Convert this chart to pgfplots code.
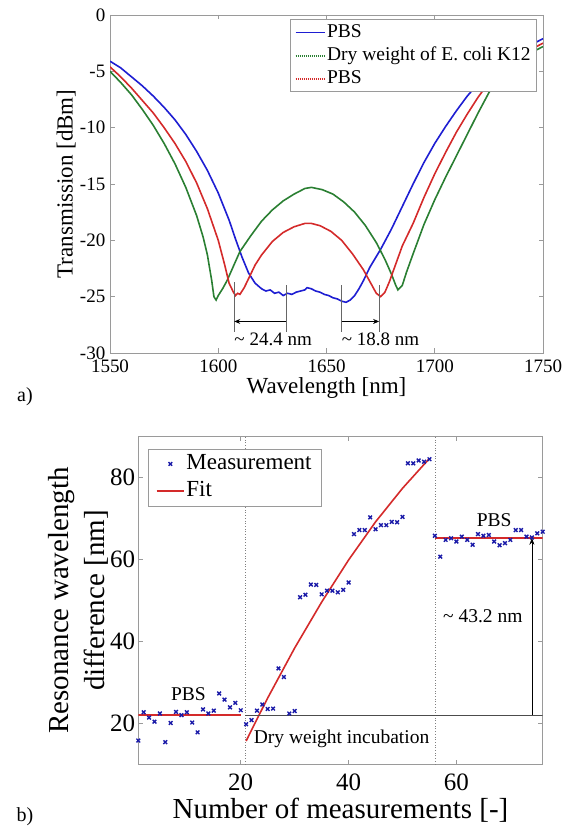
\documentclass[border=0pt]{standalone}
\usepackage{fontspec}
\setmainfont{Liberation Serif}
\usepackage{pgfplots}
\pgfplotsset{compat=1.18}
\usetikzlibrary{arrows.meta}
\definecolor{axgray}{HTML}{9A9A9A}
\definecolor{cBlue}{HTML}{1E1ED2}
\definecolor{cGreen}{HTML}{2A7F32}
\definecolor{cRed}{HTML}{D42A2A}
\definecolor{cMark}{HTML}{1A1AA8}
\pgfplotsset{
  matlab/.style={
    scale only axis, anchor=south west,
    axis line style={draw=axgray,line width=0.8pt},
    tick style={draw=axgray,line width=0.6pt},
    major tick length=4.5pt,
    tick align=inside,
    /pgf/number format/assume math mode=true,
    /pgf/number format/1000 sep={},
    tick label style={inner sep=0pt,text=black},
    legend cell align=left,
    legend image code/.code={\draw[mark repeat=2,mark phase=2,##1] plot coordinates {(0pt,0pt) (14.5pt,0pt) (29pt,0pt)};},
  }
}

\begin{document}
\begin{tikzpicture}
\path[use as bounding box] (0pt,0pt) rectangle (571pt,827pt);

% ---- panel a ----
\begin{axis}[matlab,
  at={(110pt,474pt)}, width=433pt, height=338pt,
  xmin=1550, xmax=1750, ymin=-30, ymax=0,
  xtick={1550,1600,1650,1700,1750},
  ytick={-30,-25,-20,-15,-10,-5,0},
  yticklabels={-30,-25,-20,-15,-10,-5,0},
  tick label style={font=\fontsize{19}{22}\selectfont},
  xticklabel shift=7pt, yticklabel shift=4.5pt,
  xlabel={Wavelength [nm]}, ylabel={Transmission [dBm]},
  label style={font=\fontsize{23}{26}\selectfont},
  xlabel style={at={(axis description cs:0.5,-0.1036)},anchor=center},
  ylabel style={at={(axis description cs:-0.101,0.5)},anchor=center},
  legend style={at={(axis description cs:0.985,0.987)},anchor=north east,
    draw=axgray,line width=0.6pt,fill=white,inner xsep=4pt,inner ysep=2pt,
    font=\fontsize{19.5}{22}\selectfont,row sep=1pt,
    nodes={inner sep=1.5pt,text height=14pt,text depth=5pt}},
]
\addplot[cBlue,line width=1.6pt] coordinates {
(1550,-4.1) (1555,-4.7) (1560,-5.5) (1565,-6.3) (1570,-7.2) (1575,-8.2) (1580,-9.3)
(1585,-10.6) (1590,-12.1) (1595,-13.8) (1600,-15.8) (1605,-18.2) (1608,-19.9) (1611,-21.5)
(1614,-22.9) (1617,-23.8) (1620,-24.3) (1622,-24.5) (1624,-24.4) (1626,-24.7) (1628,-24.6)
(1630,-24.9) (1632,-24.7) (1634,-24.8) (1636,-24.6) (1638,-24.5) (1640,-24.4) (1641,-24.2)
(1643,-24.3) (1645,-24.5) (1647,-24.6) (1649,-24.8) (1651,-24.9) (1653,-25.1) (1655,-25.2)
(1657,-25.4) (1659,-25.5) (1661,-25.3) (1663,-24.9) (1665,-24.3) (1667,-23.6) (1670,-22.4)
(1675,-20.8) (1680,-19.0) (1685,-17.0) (1690,-15.0) (1695,-13.1) (1700,-11.4) (1705,-9.9)
(1710,-8.5) (1715,-7.2) (1720,-6.1) (1725,-5.2) (1730,-4.4) (1740,-3.1) (1750,-2.1)};
\addlegendentry{PBS}
\addplot[cGreen,line width=1.6pt,legend image post style={cGreen,line width=1.8pt,dash pattern=on 1.2pt off 0.8pt}] coordinates {
(1550,-5.0) (1555,-6.0) (1560,-7.1) (1565,-8.4) (1570,-9.8) (1575,-11.4) (1580,-13.2)
(1585,-15.3) (1590,-17.8) (1593,-19.7) (1595,-21.3) (1597,-23.6) (1598,-25.0) (1599,-25.3)
(1600,-24.9) (1602,-24.3) (1604,-23.6) (1607,-22.3) (1610,-21.0) (1615,-19.6) (1620,-18.3)
(1625,-17.3) (1630,-16.5) (1635,-15.9) (1640,-15.4) (1643,-15.3) (1648,-15.5) (1653,-15.9)
(1658,-16.6) (1663,-17.5) (1668,-18.7) (1673,-20.2) (1677,-21.7) (1680,-23.0) (1682,-24.0)
(1683,-24.4) (1685,-24.0) (1687,-22.8) (1690,-21.2) (1695,-18.6) (1700,-16.4) (1705,-14.4)
(1710,-12.5) (1715,-10.6) (1720,-8.7) (1725,-6.9) (1730,-5.4) (1740,-3.8) (1750,-2.8)};
\addlegendentry{Dry weight of E. coli K12}
\addplot[cRed,line width=1.6pt,legend image post style={cRed,line width=1.8pt,dash pattern=on 1.2pt off 0.8pt}] coordinates {
(1550,-4.6) (1555,-5.5) (1560,-6.5) (1565,-7.6) (1570,-8.7) (1575,-10.0) (1580,-11.4)
(1585,-13.0) (1590,-14.9) (1595,-17.2) (1600,-20.0) (1603,-22.2) (1605,-23.8) (1607,-24.6)
(1608,-24.9) (1609,-24.7) (1610,-24.8) (1612,-24.2) (1614,-23.4) (1617,-22.2) (1620,-21.3)
(1625,-20.1) (1630,-19.3) (1635,-18.8) (1640,-18.5) (1643,-18.5) (1647,-18.7) (1652,-19.2)
(1657,-20.0) (1662,-21.2) (1667,-22.6) (1671,-24.0) (1673,-24.7) (1675,-25.0) (1677,-24.6)
(1679,-23.7) (1682,-22.1) (1685,-20.5) (1690,-18.5) (1695,-16.2) (1700,-14.1) (1705,-12.2)
(1710,-10.4) (1715,-8.8) (1720,-7.3) (1725,-6.0) (1730,-5.0) (1740,-3.5) (1750,-2.5)};
\addlegendentry{PBS}
% shift annotations
\draw[gray!80!black,line width=0.6pt] (axis cs:1607.4,-23.7) -- (axis cs:1607.4,-28.1);
\draw[gray!80!black,line width=0.6pt] (axis cs:1631.3,-24.0) -- (axis cs:1631.3,-28.1);
\draw[gray!80!black,line width=0.6pt] (axis cs:1657,-24.0) -- (axis cs:1657,-28.1);
\draw[gray!80!black,line width=0.6pt] (axis cs:1674.3,-24.0) -- (axis cs:1674.3,-28.1);
\draw[black,line width=0.7pt,-{Stealth[length=6pt,width=5pt]}] (axis cs:1631.3,-27.2) -- (axis cs:1607.4,-27.2);
\draw[black,line width=0.7pt,-{Stealth[length=6pt,width=5pt]}] (axis cs:1657,-27.2) -- (axis cs:1674.3,-27.2);
\node[anchor=west,inner sep=0pt,font=\fontsize{19}{22}\selectfont] at (axis cs:1607.4,-28.75) {\textasciitilde{} 24.4 nm};
\node[anchor=west,inner sep=0pt,font=\fontsize{19}{22}\selectfont] at (axis cs:1657,-28.75) {\textasciitilde{} 18.8 nm};
\end{axis}

% ---- panel b ----
\begin{axis}[matlab,
  at={(138.3pt,62.7pt)}, width=404.4pt, height=327.6pt,
  xmin=1, xmax=76, ymin=10, ymax=90,
  xtick={20,40,60}, ytick={20,40,60,80},
  tick label style={font=\fontsize{25}{28}\selectfont},
  xticklabel shift=9pt, yticklabel shift=3pt,
  xlabel={Number of measurements [-]},
  ylabel={Resonance wavelength\\difference [nm]},
  label style={font=\fontsize{29}{36}\selectfont},
  xlabel style={at={(axis description cs:0.5,-0.1395)},anchor=center},
  ylabel style={at={(axis description cs:-0.1486,0.5)},anchor=center,align=center},
  legend image code/.code={\draw[mark repeat=2,mark phase=2,#1] plot coordinates {(0pt,0pt) (13.75pt,0pt) (27.5pt,0pt)};},
  legend style={at={(axis description cs:0.0228,0.9637)},anchor=north west,
    draw=axgray,line width=0.6pt,fill=white,inner xsep=8pt,inner ysep=2pt,
    font=\fontsize{23}{26}\selectfont,row sep=1.4pt,
    nodes={inner sep=1.5pt,text height=17pt,text depth=6pt}},
]
\addplot[only marks,mark=x,mark size=2.6pt,cMark,line width=1.4pt] coordinates {
(1,15.8) (2,22.7) (3,21.4) (4,20.4) (5,22.4) (6,15.4) (7,20.1) (8,22.8) (9,22.0) (10,22.7)
(11,20.2) (12,17.8) (13,23.4) (14,22.4) (15,23.1) (16,27.3) (17,25.8) (18,23.9) (19,25.0) (20,23.2)
(21,19.8) (22,20.8) (23,23.1) (24,24.6) (25,23.5) (26,23.6) (27,33.4) (28,31.3) (29,22.4) (30,23.0)
(31,50.8) (32,51.4) (33,53.9) (34,53.8) (35,51.5) (36,52.4) (37,52.4) (38,52.0) (39,52.6) (40,54.4)
(41,66.2) (42,67.2) (43,67.2) (44,70.3) (45,67.4) (46,68.4) (47,68.4) (48,69.2) (49,69.1) (50,70.4)
(51,83.5) (52,83.5) (53,84.2) (54,83.9) (55,84.5) (56,65.8) (57,60.7) (58,64.8) (59,65.2) (60,64.4)
(61,65.6) (62,64.8) (63,63.6) (64,66.2) (65,65.8) (66,66.0) (67,64.4) (68,63.5) (69,64.0) (70,64.8)
(71,67.2) (72,67.2) (73,65.6) (74,65.4) (75,66.4) (76,66.8)};
\addlegendentry{Measurement}
\addplot[cRed,line width=1.6pt] coordinates {(1,22) (20,22)};
\addlegendentry{Fit}
\addplot[cRed,line width=1.6pt,forget plot] coordinates {
(21,15.7) (23,21.0) (25,26.2) (30,38.4) (35,49.6) (40,59.9) (45,69.2) (50,77.4) (55,84.7)};
\addplot[cRed,line width=1.6pt,forget plot] coordinates {(56,65.3) (76,65.3)};
% guides
\draw[gray,dotted,line width=0.7pt] (axis cs:20.8,10) -- (axis cs:20.8,90);
\draw[gray,dotted,line width=0.7pt] (axis cs:56,10) -- (axis cs:56,90);
\draw[black!70,line width=0.7pt] (axis cs:20.8,22) -- (axis cs:76,22);
\draw[black,line width=0.7pt,-{Stealth[length=7pt,width=5pt]}] (axis cs:74,22) -- (axis cs:74,65.3);
\node[font=\fontsize{19.5}{22}\selectfont] at (axis cs:10.3,27.1) {PBS};
\node[font=\fontsize{19.5}{22}\selectfont] at (axis cs:38.7,16.1) {Dry weight incubation};
\node[font=\fontsize{19.5}{22}\selectfont] at (axis cs:67,69.7) {PBS};
\node[font=\fontsize{19.5}{22}\selectfont] at (axis cs:64.9,46.1) {\textasciitilde{} 43.2 nm};
\end{axis}

\node[font=\fontsize{20}{22}\selectfont] at (25pt,430pt) {a)};
\node[font=\fontsize{20}{22}\selectfont] at (25pt,10pt) {b)};
\end{tikzpicture}
\end{document}
